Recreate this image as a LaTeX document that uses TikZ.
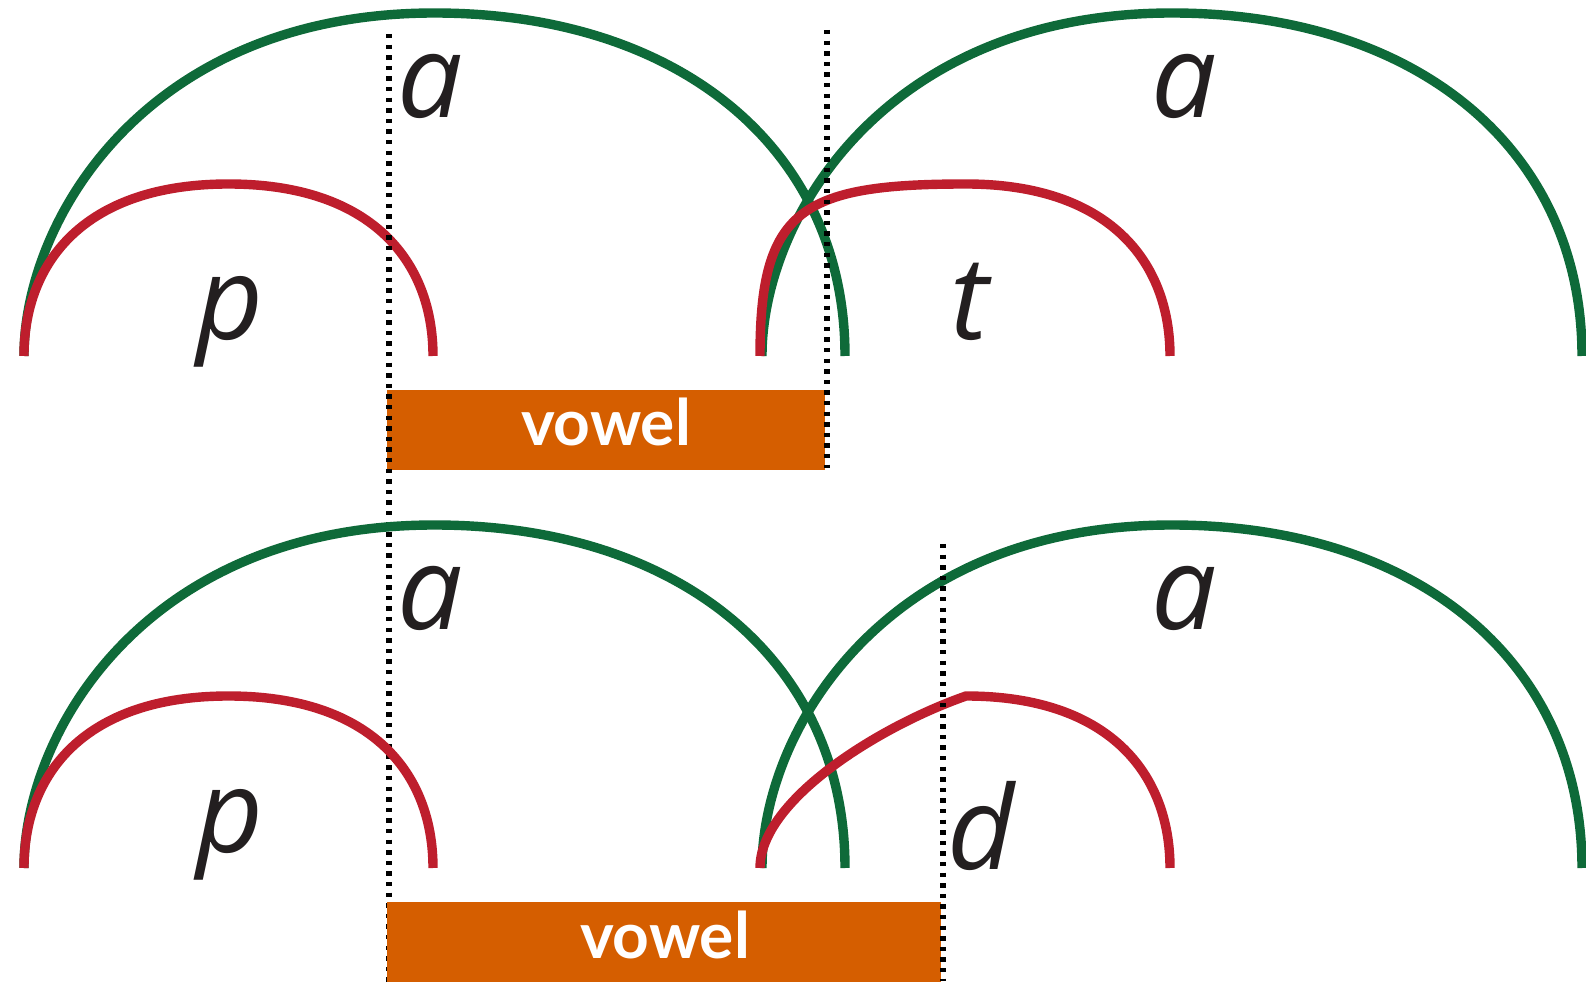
\documentclass[tikz,border=0pt]{standalone}
\usepackage{fontspec}
\newfontfamily\lato{Lato}
\newfontfamily\segfont{Open Sans}
\definecolor{arcgreen}{HTML}{0E6A39}
\definecolor{arcred}{HTML}{BE1E2D}
\definecolor{vowelor}{HTML}{D55E00}
\definecolor{ink}{HTML}{231F20}
\begin{document}
\begin{tikzpicture}[x=0.5pt,y=-0.5pt,
  garc/.style={draw=arcgreen,line width=4.7pt},
  rarc/.style={draw=arcred,line width=4.7pt},
  dotline/.style={draw=black,line width=2.6pt,dash pattern=on 2.2pt off 3.1pt},
  vbox/.style={fill=vowelor,inner sep=0pt,minimum height=40pt},
  vtext/.style={text=white,font=\lato\bfseries\fontsize{32}{32}\selectfont,inner sep=0pt,anchor=base},
  seg/.style={text=ink,font=\segfont\itshape\fontsize{58}{58}\selectfont,inner sep=0pt,anchor=base}]
\useasboundingbox (0,0) rectangle (1586,994);

% ---------- top row ----------
\path[garc] (24,356) .. controls (24,219) and (147.2,13) .. (434.5,13)
  .. controls (680.8,13) and (845,150.2) .. (845,356);
\path[garc] (762,356) .. controls (762,219) and (884.6,13) .. (1172,13)
  .. controls (1418.3,13) and (1582,150.2) .. (1582,356);
\path[rarc] (24,356) .. controls (24,261.4) and (85.4,184) .. (228.5,184)
  .. controls (371.6,184) and (433,261.4) .. (433,356);
\path[rarc] (760,356) .. controls (760,210) and (800,184) .. (966,184)
  .. controls (1108.8,184) and (1170,261.4) .. (1170,356);

\node[vbox,minimum width=219pt] (box1) at (606,430) {};
\node[vtext] (v1) at (606,446) {vowel};

\coordinate (d1t) at (389,34);
\coordinate (d1b) at (389,987);
\coordinate (d2t) at (827,30);
\coordinate (d2b) at (827,468);
\path[dotline] (d1t) -- (d1b);
\path[dotline] (d2t) -- (d2b);

\node[seg] (a1) at (430,118) {a};
\node[seg] (p1) at (230,340) {p};
\node[seg] (t1) at (970,340) {t};
\node[seg] (a2) at (1184,118) {a};

% ---------- bottom row ----------
\path[garc] (24,868) .. controls (24,731) and (147.2,525) .. (434.5,525)
  .. controls (680.8,525) and (845,662.2) .. (845,868);
\path[garc] (762,868) .. controls (762,731) and (884.6,525) .. (1172,525)
  .. controls (1418.3,525) and (1582,662.2) .. (1582,868);
\path[rarc] (24,868) .. controls (24,773.4) and (85.4,696) .. (228.5,696)
  .. controls (371.6,696) and (433,773.4) .. (433,868);
\path[rarc] (760,868) .. controls (760,800) and (880,726) .. (966,696)
  .. controls (1108.8,696) and (1170,773.4) .. (1170,868);

\node[vbox,minimum width=277pt] (box2) at (664,942) {};
\node[vtext] (v2) at (665,958) {vowel};

\coordinate (d3t) at (943,544);
\coordinate (d3b) at (943,981);
\path[dotline] (d3t) -- (d3b);

\node[seg] (a3) at (430,630) {a};
\node[seg] (p2) at (230,852) {p};
\node[seg] (d1) at (981,869) {d};
\node[seg] (a4) at (1184,630) {a};
\end{tikzpicture}
\end{document}
